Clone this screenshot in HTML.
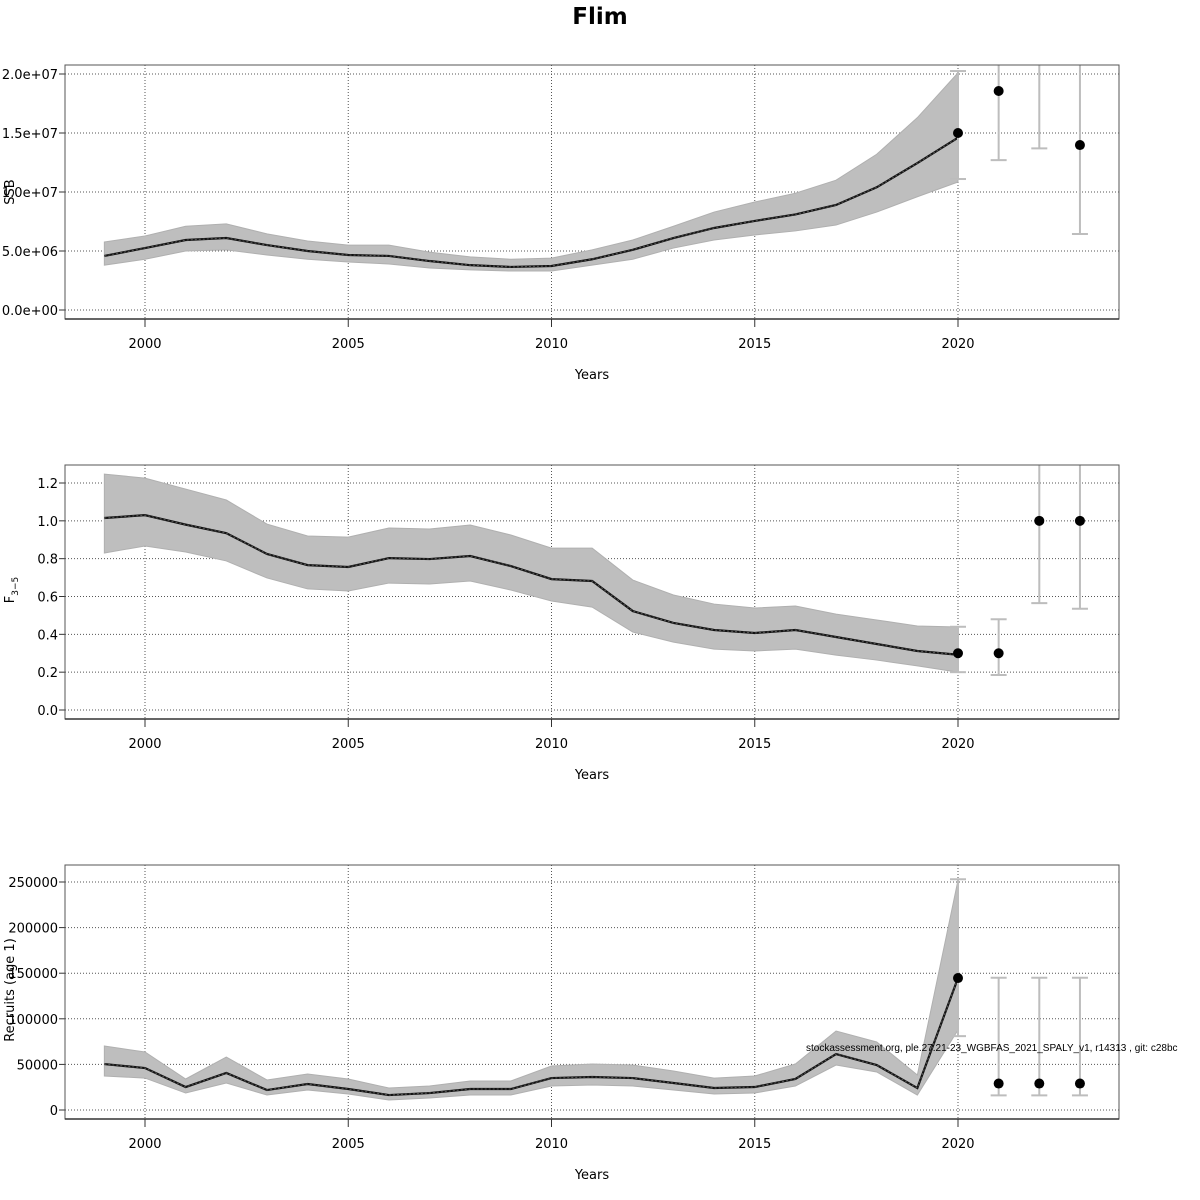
<!DOCTYPE html>
<html><head><meta charset="utf-8"><style>
html,body{margin:0;padding:0;background:#fff}
svg{display:block;font-family:"DejaVu Sans","Liberation Sans",sans-serif}
</style></head><body>
<svg id="chart" width="1200" height="1200" viewBox="0 0 1200 1200" xmlns="http://www.w3.org/2000/svg">
<text x="600" y="24" text-anchor="middle" font-size="23" font-weight="bold">Flim</text>
</svg>
<script>
const years = [1999,2000,2001,2002,2003,2004,2005,2006,2007,2008,2009,2010,2011,2012,2013,2014,2015,2016,2017,2018,2019,2020];
const xTicks = [2000,2005,2010,2015,2020];
const projYears = [2020,2021,2022,2023];

const ssbMean = [4.58e6,5.25e6,5.93e6,6.1e6,5.5e6,5.0e6,4.66e6,4.58e6,4.15e6,3.8e6,3.65e6,3.73e6,4.3e6,5.1e6,6.1e6,6.95e6,7.55e6,8.1e6,8.9e6,10.4e6,12.45e6,14.6e6];
const ssbUpper = [5.76e6,6.27e6,7.1e6,7.3e6,6.45e6,5.85e6,5.5e6,5.5e6,4.9e6,4.5e6,4.3e6,4.4e6,5.1e6,5.93e6,7.1e6,8.3e6,9.15e6,9.9e6,11.0e6,13.2e6,16.3e6,20.1e6];
const ssbLower = [3.8e6,4.3e6,5.0e6,5.1e6,4.66e6,4.3e6,4.07e6,3.9e6,3.56e6,3.4e6,3.3e6,3.3e6,3.8e6,4.3e6,5.25e6,5.93e6,6.36e6,6.7e6,7.2e6,8.3e6,9.6e6,10.85e6];
const ssbProj = [15.0e6,18.56e6,null,13.98e6];
const ssbProjLo = [11.1e6,12.7e6,13.7e6,6.44e6];
const ssbProjHi = [20.25e6,26e6,26e6,26e6];
const ssbTicks = [0,5e6,10e6,15e6,20e6];
const ssbTickLabels = ["0.0e+00","5.0e+06","1.0e+07","1.5e+07","2.0e+07"];

const fMean = [1.015,1.03,0.98,0.935,0.825,0.766,0.756,0.803,0.798,0.814,0.761,0.692,0.682,0.523,0.46,0.423,0.407,0.423,0.386,0.349,0.312,0.292];
const fUpper = [1.247,1.226,1.168,1.11,0.983,0.92,0.914,0.962,0.957,0.978,0.925,0.856,0.856,0.687,0.608,0.56,0.539,0.55,0.507,0.476,0.444,0.439];
const fLower = [0.83,0.867,0.835,0.788,0.698,0.64,0.629,0.671,0.666,0.682,0.634,0.576,0.544,0.412,0.359,0.322,0.312,0.322,0.29,0.264,0.233,0.2];
const fProj = [0.3,0.3,1.0,1.0];
const fProjLo = [0.2,0.185,0.565,0.535];
const fProjHi = [0.44,0.48,1.6,1.6];
const fTicks = [0,0.2,0.4,0.6,0.8,1.0,1.2];
const fTickLabels = ["0.0","0.2","0.4","0.6","0.8","1.0","1.2"];

const recMean = [50400,46000,25200,40600,21900,28500,23000,16400,18600,23000,23000,35000,36200,35000,29600,24100,25200,34000,61400,49300,24100,144700];
const recUpper = [70200,63600,34000,58100,32900,39500,34000,24100,26300,31800,31800,48200,50400,49300,42800,35000,37300,50400,86600,74600,38400,252000];
const recLower = [37300,35000,18600,29600,16400,21900,17500,11000,13200,16400,16400,26300,27400,26300,21900,17500,18600,26300,49300,41700,16400,87700];
const recProj = [144700,29000,29000,29000];
const recProjLo = [81000,16000,16000,16000];
const recProjHi = [253000,145000,145000,145000];
const recTicks = [0,50000,100000,150000,200000,250000];
const recTickLabels = ["0","50000","100000","150000","200000","250000"];

const NS = "http://www.w3.org/2000/svg";
const svg = document.getElementById('chart');
function mk(tag, attrs, parent){const e=document.createElementNS(NS,tag);for(const k in attrs)e.setAttribute(k,attrs[k]);(parent||svg).appendChild(e);return e;}
const X0=65,X1=1119;
function xs(yr){return 145+(yr-2000)*(958-145)/20;}

function panel(id, top, yAt0, yAtRef, refVal, mean, up, lo, proj, pLo, pHi, ticks, tickLabels, ylabel, ylabelSub, ylabelY){
  const bottom=top+254;
  const ys=v=>yAt0-(v/refVal)*(yAt0-yAtRef);
  const g=mk('g',{});
  
  
  const clip=mk('clipPath',{id:'clip-'+id},g);
  mk('rect',{x:X0,y:top,width:X1-X0,height:bottom-top},clip);
  // grid
  ticks.forEach((t,i)=>{
    const l=mk('line',{x1:X0,x2:X1,y1:ys(t),y2:ys(t),stroke:'#555','stroke-width':1,'stroke-dasharray':'1,2'},g);
    
    
    mk('line',{x1:X0-6,x2:X0,y1:ys(t),y2:ys(t),stroke:'#333'},g);
    const tx=mk('text',{x:X0-7,y:ys(t)+5,'text-anchor':'end','font-size':13},g);
    
    
    tx.textContent=tickLabels[i];
  });
  xTicks.forEach(t=>{
    const l=mk('line',{x1:xs(t),x2:xs(t),y1:top,y2:bottom,stroke:'#555','stroke-width':1,'stroke-dasharray':'1,2'},g);
    
    
    mk('line',{x1:xs(t),x2:xs(t),y1:bottom,y2:bottom+8,stroke:'#333'},g);
    const tx=mk('text',{x:xs(t),y:bottom+29,'text-anchor':'middle','font-size':13},g);
    
    
    tx.textContent=t;
  });
  const cg=mk('g',{'clip-path':'url(#clip-'+id+')'},g);
  // band
  let pts=years.map((yr,i)=>xs(yr)+','+ys(up[i]));
  pts=pts.concat(years.map((yr,i)=>xs(yr)+','+ys(lo[i])).reverse());
  const band=mk('polygon',{points:pts.join(' '),fill:'#bebebe',stroke:'#b0b0b0','stroke-width':1},cg);
  
  
  const line=mk('polyline',{points:years.map((yr,i)=>xs(yr)+','+ys(mean[i])).join(' '),fill:'none',stroke:'#111','stroke-width':2.2},cg);
  
  
  mk('polyline',{points:years.map((yr,i)=>xs(yr)+','+ys(mean[i])).join(' '),fill:'none',stroke:'#555','stroke-width':1,'stroke-dasharray':'2,2'},cg);
  projYears.forEach((yr,i)=>{
    const x=xs(yr);
    const eb=mk('g',{},cg);
    
    
    mk('line',{x1:x,x2:x,y1:ys(pLo[i]),y2:ys(pHi[i]),stroke:'#bdbdbd','stroke-width':2},eb);
    mk('line',{x1:x-8,x2:x+8,y1:ys(pLo[i]),y2:ys(pLo[i]),stroke:'#bdbdbd','stroke-width':2},eb);
    mk('line',{x1:x-8,x2:x+8,y1:ys(pHi[i]),y2:ys(pHi[i]),stroke:'#bdbdbd','stroke-width':2},eb);
    if(proj[i]!==null){
      const c=mk('circle',{cx:x,cy:ys(proj[i]),r:5,fill:'#000'},cg);
      
      
    }
  });
  mk('rect',{x:X0,y:top,width:X1-X0,height:bottom-top,fill:'none',stroke:'#555','stroke-width':1},g);
  mk('line',{x1:X0,x2:X1,y1:bottom,y2:bottom,stroke:'#333','stroke-width':1.5},g);
  const xl=mk('text',{x:592,y:bottom+60,'text-anchor':'middle','font-size':13},g);
  
  
  xl.textContent='Years';
  const yl=mk('text',{x:0,y:0,'text-anchor':'middle','font-size':13,transform:'translate(14,'+ylabelY+') rotate(-90)'},g);
  
  
  yl.textContent=ylabel;
  if(ylabelSub){const s=mk('tspan',{'font-size':9,dy:4},yl);s.textContent=ylabelSub;}
}
panel('ssb',65,310,74,2e7,ssbMean,ssbUpper,ssbLower,ssbProj,ssbProjLo,ssbProjHi,ssbTicks,ssbTickLabels,'SSB',null,192);
panel('f',465,710,483,1.2,fMean,fUpper,fLower,fProj,fProjLo,fProjHi,fTicks,fTickLabels,'F','3−5',590);
panel('recruits',865,1110,882,250000,recMean,recUpper,recLower,recProj,recProjLo,recProjHi,recTicks,recTickLabels,'Recruits (age 1)',null,990);
const wm=mk('text',{x:806,y:1051,'font-size':10,'font-family':'Liberation Sans, sans-serif'});


wm.textContent='stockassessment.org, ple.27.21-23_WGBFAS_2021_SPALY_v1, r14313 , git: c28bc';
</script>
</body></html>
